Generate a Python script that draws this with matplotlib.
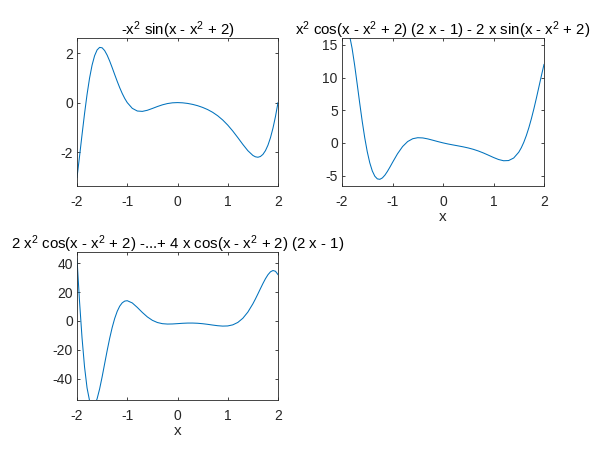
import matplotlib
matplotlib.use("Agg")
import matplotlib.pyplot as plt

plt.rcParams["font.family"] = ["Liberation Sans", "DejaVu Sans"]
plt.rcParams["mathtext.fontset"] = "custom"
plt.rcParams["mathtext.rm"] = "Liberation Sans"
plt.rcParams["mathtext.default"] = "regular"
plt.rcParams["axes.unicode_minus"] = False

LINE = "#0072BD"
AXC = "#262626"

# sample points
x = [-2.0, -1.95, -1.9, -1.85, -1.8, -1.75, -1.7, -1.65, -1.6, -1.55, -1.5,
     -1.45, -1.4, -1.35, -1.3, -1.25, -1.2, -1.15, -1.1, -1.05, -1.0,
     -0.9, -0.8, -0.7, -0.6, -0.5, -0.4, -0.3, -0.2, -0.1, 0.0,
     0.1, 0.2, 0.3, 0.4, 0.5, 0.6, 0.7, 0.8, 0.9, 1.0,
     1.1, 1.2, 1.3, 1.4, 1.5, 1.55, 1.6, 1.65, 1.7, 1.75, 1.8, 1.85, 1.9, 1.95, 2.0]

f0 = [-3.027, -2.181, -1.300, -0.447, 0.329, 0.990, 1.514, 1.893, 2.128, 2.230, 2.214,
      2.102, 1.917, 1.680, 1.413, 1.134, 0.860, 0.602, 0.369, 0.167, 0.0,
      -0.232, -0.340, -0.355, -0.310, -0.237, -0.159, -0.090, -0.039, -0.009, 0.0,
      -0.009, -0.033, -0.072, -0.125, -0.195, -0.282, -0.393, -0.532, -0.703, -0.909,
      -1.149, -1.414, -1.689, -1.943, -2.135, -2.190, -2.208, -2.178, -2.093, -1.943,
      -1.721, -1.419, -1.032, -0.559, 0.0]

f1 = [16.100, 17.499, 17.534, 16.431, 14.462, 11.911, 9.048, 6.117, 3.314, 0.792, -1.348,
      -3.050, -4.296, -5.104, -5.512, -5.576, -5.360, -4.933, -4.359, -3.697, -3.0,
      -1.659, -0.560, 0.203, 0.634, 0.791, 0.756, 0.605, 0.403, 0.194, 0.0,
      -0.170, -0.319, -0.460, -0.608, -0.778, -0.986, -1.241, -1.544, -1.884, -2.235,
      -2.545, -2.736, -2.704, -2.316, -1.428, -0.754, 0.091, 1.116, 2.320, 3.696,
      5.225, 6.875, 8.599, 10.334, 12.0]

f2 = [42.79, 13.69, -11.54, -31.66, -46.15, -55.00, -58.68, -57.92, -53.66, -46.88, -38.54,
      -29.48, -20.45, -11.99, -4.51, 1.74, 6.65, 10.23, 12.54, 13.74, 14.0,
      12.46, 9.37, 5.91, 2.82, 0.47, -1.05, -1.85, -2.11, -2.04, -1.82,
      -1.58, -1.43, -1.42, -1.56, -1.87, -2.30, -2.80, -3.25, -3.52, -3.41,
      -2.66, -1.00, 1.87, 6.14, 11.85, 15.16, 18.68, 22.30, 25.85, 29.14,
      31.92, 33.93, 34.83, 34.30, 32.0]

titles = [
    r"-x$^2$ sin(x - x$^2$ + 2)",
    r"x$^2$ cos(x - x$^2$ + 2) (2 x - 1) - 2 x sin(x - x$^2$ + 2)",
    r"2 x$^2$ cos(x - x$^2$ + 2) -...+ 4 x cos(x - x$^2$ + 2) (2 x - 1)",
]

W, H = 601, 451
fig = plt.figure(figsize=(W / 100, H / 100), dpi=100)


def box(l, t, r, b):
    return [l / W, (H - b) / H, (r - l) / W, (b - t) / H]


def style(ax, yt, ylim, title, xlabel):
    ax.set_xlim(-2, 2)
    ax.set_ylim(*ylim)
    ax.set_xticks([-2, -1, 0, 1, 2])
    ax.set_yticks(yt)
    ax.tick_params(direction="in", length=2, width=0.6, colors=AXC,
                   labelsize=10, top=True, right=True)
    ax.tick_params(axis="x", pad=6.5)
    ax.tick_params(axis="y", pad=3)
    for s in ax.spines.values():
        s.set_color(AXC)
        s.set_linewidth(0.6)
    ax.set_title(title, fontsize=10.8, pad=2.5, color="black")
    if xlabel:
        ax.set_xlabel("x", fontsize=11, color=AXC, labelpad=1)


ax1 = fig.add_axes(box(77, 38, 278, 186))
ax1.plot(x, f0, color=LINE, lw=0.75)
style(ax1, [-2, 0, 2], (-3.37, 2.61), titles[0], False)

ax2 = fig.add_axes(box(342, 38, 544, 186))
ax2.plot(x, f1, color=LINE, lw=0.75)
style(ax2, [-5, 0, 5, 10, 15], (-6.6, 16.05), titles[1], True)

ax3 = fig.add_axes(box(77, 252, 278, 400))
ax3.plot(x, f2, color=LINE, lw=0.75)
style(ax3, [-40, -20, 0, 20, 40], (-54.5, 47.6), titles[2], True)

fig.savefig("out.png", dpi=100)
